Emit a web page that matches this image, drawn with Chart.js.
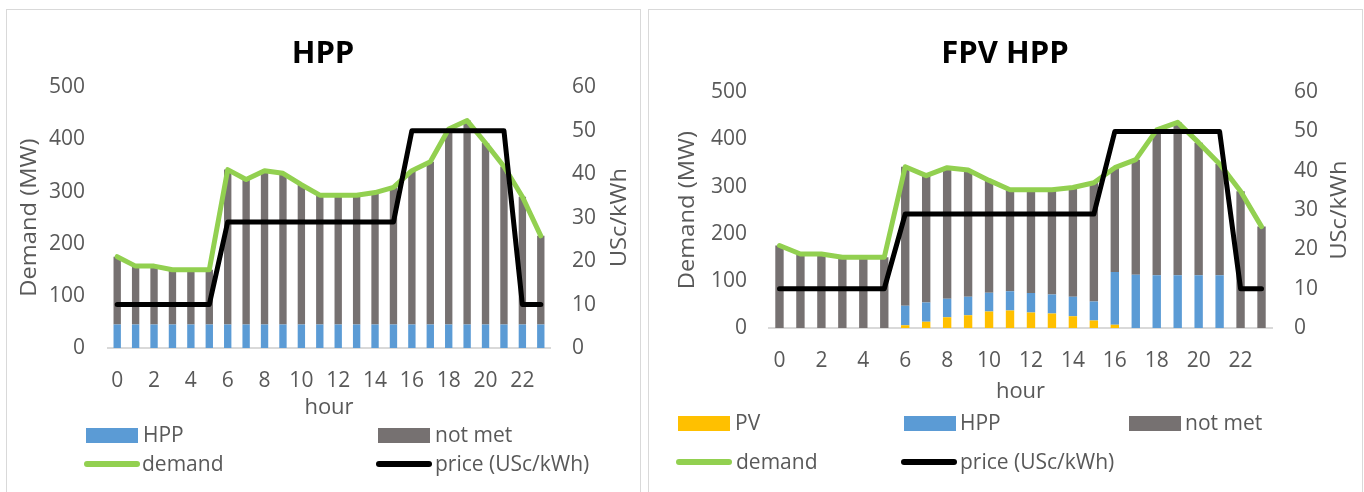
<!DOCTYPE html>
<html>
<head>
<meta charset="utf-8">
<script src="https://cdn.jsdelivr.net/npm/chart.js@4"></script>
<style>
  body { margin:0; background:#fff; width:1364px; height:492px; overflow:hidden; position:relative; font-family:"Open Sans", sans-serif; }
  .panel { position:absolute; border:1px solid #d9d9d9; box-sizing:border-box; background:#fff; }
  canvas { position:absolute; }
  .lg-text { position:absolute; font-size:21px; line-height:24px; color:#595959; white-space:nowrap; }
  .lg-sw { position:absolute; }
</style>
</head>
<body>
<div class="panel" style="left:6px;top:9px;width:635px;height:492px"></div>
<div class="panel" style="left:648px;top:9px;width:715px;height:492px"></div>
<canvas id="hppChart" width="630" height="410" style="left:8px;top:11px"></canvas>
<canvas id="fpvChart" width="710" height="400" style="left:650px;top:11px"></canvas>
<div id="legends"></div>

<script>
// hourly categories
const hours = [0,1,2,3,4,5,6,7,8,9,10,11,12,13,14,15,16,17,18,19,20,21,22,23];

// system demand (MW), same for both scenarios
const demandMW = [175,157,157,150,150,150,342,323,340,335,313,293,293,293,298,308,340,357,420,436,393,348,290,215];

// electricity price (USc/kWh)
const priceUSc = [10,10,10,10,10,10,29,29,29,29,29,29,29,29,29,29,50,50,50,50,50,50,10,10];

// HPP-only scenario (MW)
const hppOnlyMW   = [45,45,45,45,45,45,45,45,45,45,45,45,45,45,45,45,45,45,45,45,45,45,45,45];
const notMetHppMW = [130,112,112,105,105,105,297,278,295,290,268,248,248,248,253,263,295,312,375,391,348,303,245,170];

// floating PV + HPP scenario (MW)
const pvFpvMW     = [0,0,0,0,0,0,6,13,23,27,35,37,33,31,25,16,7,0,0,0,0,0,0,0];
const hppFpvMW    = [0,0,0,0,0,0,41,41,39,39,40,41,41,40,41,40,112,113,112,112,112,112,0,0];
const notMetFpvMW = [175,157,157,150,150,150,295,269,278,269,238,215,219,222,232,252,221,244,308,324,281,236,290,215];

// axis tick settings
const demandTicks = { min: 0, max: 500, step: 100 };
const priceTicks  = { min: 0, max: 60, step: 10 };

const TEXT = '#595959';
const COLORS = { pv:'#FFC000', hpp:'#5B9BD5', notMet:'#767171', demand:'#92D050', price:'#000000' };

// vertical axis titles, both reading bottom-to-top, slightly stretched along the text
const sideTitles = {
  id: 'sideTitles',
  afterDraw(chart, args, opts) {
    const { ctx, chartArea } = chart;
    const cy = (chartArea.top + chartArea.bottom) / 2;
    for (const t of opts.items) {
      ctx.save();
      ctx.translate(t.x, cy);
      ctx.rotate(-Math.PI / 2);
      ctx.scale(1.13, 1);
      ctx.font = '21px "Open Sans"';
      ctx.fillStyle = TEXT;
      ctx.textAlign = 'center';
      ctx.textBaseline = 'middle';
      ctx.fillText(t.text, 0, 0);
      ctx.restore();
    }
  }
};

function barSet(label, data, color) {
  return { type:'bar', label, data, backgroundColor:color, borderWidth:0,
           stack:'supply', yAxisID:'y', order:2, barPercentage:0.4, categoryPercentage:1 };
}
function lineSet(label, data, color, axis, order) {
  return { type:'line', label, data, borderColor:color, backgroundColor:color, borderWidth:5,
           pointRadius:0, tension:0, borderJoinStyle:'round', borderCapStyle:'round',
           yAxisID:axis, stack:'line-' + label, order };
}

function makeChart(id, title, bars, g) {
  const datasets = bars.concat([
    lineSet('demand', demandMW, COLORS.demand, 'y', 1),
    lineSet('price (USc/kWh)', priceUSc, COLORS.price, 'y1', 0)
  ]);
  return new Chart(document.getElementById(id), {
    data: { labels: hours, datasets },
    plugins: [sideTitles],
    options: {
      responsive: false,
      animation: false,
      devicePixelRatio: 1,
      layout: { padding: 0 },
      plugins: {
        legend: { display: false },
        tooltip: { enabled: false },
        title: { display: true, text: title, color: '#000',
                 font: { family: 'Open Sans', size: 31, weight: 'bold' },
                 padding: { top: g.titleTop, bottom: g.titleBottom } },
        sideTitles: { items: [
          { text: 'Demand (MW)', x: g.leftTitleX },
          { text: 'USc/kWh', x: g.rightTitleX }
        ] }
      },
      scales: {
        x: {
          stacked: true,
          grid: { display: false, drawTicks: false },
          border: { display: true, color: '#d9d9d9', width: 2 },
          ticks: { autoSkip: false, maxRotation: 0, color: TEXT, padding: g.xTickPad,
                   font: { family: 'Open Sans', size: 21 },
                   callback: (v, i) => (i % 2 === 0 ? String(hours[i]) : '') },
          title: { display: true, text: 'hour', color: TEXT, font: { family: 'Open Sans', size: 22 },
                   padding: { top: 0, bottom: g.hourPad } },
          afterFit: s => { s.height = g.xHeight; }
        },
        y: {
          position: 'left', stacked: true,
          min: demandTicks.min, max: demandTicks.max,
          grid: { display: false, drawTicks: false },
          border: { display: false },
          ticks: { stepSize: demandTicks.step, color: TEXT, padding: g.yTickPad,
                   font: { family: 'Open Sans', size: 21 } },
          afterFit: s => { s.width = g.yWidth; }
        },
        y1: {
          position: 'right',
          min: priceTicks.min, max: priceTicks.max,
          grid: { display: false, drawTicks: false },
          border: { display: false },
          ticks: { stepSize: priceTicks.step, color: TEXT, padding: g.y1TickPad,
                   font: { family: 'Open Sans', size: 21 } },
          afterFit: s => { s.width = g.y1Width; }
        }
      }
    }
  });
}

const hppChart = makeChart('hppChart', 'HPP',
  [barSet('HPP', hppOnlyMW, COLORS.hpp), barSet('not met', notMetHppMW, COLORS.notMet)],
  { titleTop: 25, titleBottom: 14, xTickPad: 20, hourPad: 0, xHeight: 73,
    yTickPad: 23, yWidth: 100, y1TickPad: 22, y1Width: 88, leftTitleX: 22, rightTitleX: 612 });

const fpvChart = makeChart('fpvChart', 'FPV HPP',
  [barSet('PV', pvFpvMW, COLORS.pv), barSet('HPP', hppFpvMW, COLORS.hpp), barSet('not met', notMetFpvMW, COLORS.notMet)],
  { titleTop: 25, titleBottom: 19, xTickPad: 20, hourPad: 6, xHeight: 83,
    yTickPad: 22, yWidth: 119, y1TickPad: 22, y1Width: 88, leftTitleX: 38, rightTitleX: 690 });

// legend entries laid out in a grid under each chart
function drawLegend(chart, layout) {
  const host = document.getElementById('legends');
  chart.data.datasets.forEach((ds, i) => {
    const p = layout[i];
    const sw = document.createElement('div');
    sw.className = 'lg-sw';
    if (ds.type === 'bar') {
      Object.assign(sw.style, { left: p.sx + 'px', top: (p.y - 7) + 'px', width: '52px', height: '15px', background: ds.backgroundColor });
    } else {
      Object.assign(sw.style, { left: p.sx + 'px', top: (p.y - 3) + 'px', width: '56px', height: '6px', borderRadius: '3px', background: ds.borderColor });
    }
    host.appendChild(sw);
    const t = document.createElement('div');
    t.className = 'lg-text';
    t.textContent = ds.label;
    Object.assign(t.style, { left: p.tx + 'px', top: (p.y - 13) + 'px' });
    host.appendChild(t);
  });
}

drawLegend(hppChart, [
  { sx: 86,  tx: 143, y: 435 },
  { sx: 378, tx: 435, y: 435 },
  { sx: 84,  tx: 142, y: 464 },
  { sx: 376, tx: 435, y: 464 }
]);
drawLegend(fpvChart, [
  { sx: 678,  tx: 735,  y: 423 },
  { sx: 904,  tx: 960,  y: 423 },
  { sx: 1129, tx: 1185, y: 423 },
  { sx: 676,  tx: 736,  y: 462 },
  { sx: 901,  tx: 960,  y: 462 }
]);
</script>
</body>
</html>
